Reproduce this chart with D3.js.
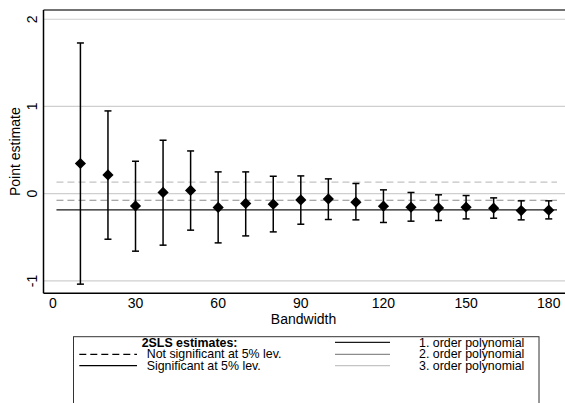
<!DOCTYPE html>
<html lang="en">
<head>
    <meta charset="UTF-8">
    <script src="https://d3js.org/d3.v7.min.js"></script>
    <title>2SLS estimates by bandwidth</title>
    <style>
        body { margin: 0; background: #fff; }
        text { font-family: "Liberation Sans", Arial, sans-serif; fill: #000; }
    </style>
</head>
<body>
<svg width="565" height="403" id="chart"></svg>
<script>
    // Estimates
    const bandwidth = [10, 20, 30, 40, 50, 60, 70, 80, 90, 100, 110, 120, 130, 140, 150, 160, 170, 180];
    const estimate  = [0.346, 0.215, -0.14, 0.014, 0.037, -0.158, -0.112, -0.12, -0.071, -0.06, -0.097, -0.143, -0.155, -0.163, -0.155, -0.166, -0.193, -0.189];
    const ciHigh    = [1.728, 0.949, 0.372, 0.613, 0.49, 0.25, 0.25, 0.2, 0.204, 0.17, 0.117, 0.044, 0.014, -0.013, -0.021, -0.048, -0.082, -0.082];
    const ciLow     = [-1.037, -0.522, -0.659, -0.59, -0.418, -0.564, -0.484, -0.438, -0.35, -0.296, -0.30, -0.33, -0.315, -0.307, -0.289, -0.281, -0.30, -0.289];

    // polynomial estimates (horizontal reference lines)
    const polyLabels = ["1. order polynomial", "2. order polynomial", "3. order polynomial"];
    const polyValues = [-0.185, -0.075, 0.132];
    const polySignif = [true, false, false];
    const polyColors = ["#1a1a1a", "#8c8c8c", "#c4c4c4"];

    const xTicks = [0, 30, 60, 90, 120, 150, 180];
    const yTicks = [-1, 0, 1, 2];

    const svg = d3.select("#chart");

    const plotLeft = 43.5, plotRight = 565, plotTop = 10, plotBottom = 293.3;

    const x = d3.scaleLinear().domain([-3.4, 185.9]).range([plotLeft, plotRight]);
    const y = d3.scaleLinear().domain([-1.142, 2.106]).range([plotBottom, plotTop]);

    // gridlines
    svg.selectAll(".grid")
        .data(yTicks)
        .enter()
        .append("line")
        .attr("x1", plotLeft)
        .attr("x2", plotRight)
        .attr("y1", d => y(d))
        .attr("y2", d => y(d))
        .style("stroke", "#cfcfcf")
        .style("stroke-width", 1.2);

    // polynomial lines
    polyValues.forEach((v, i) => {
        svg.append("line")
            .attr("x1", x(1.3))
            .attr("x2", x(183))
            .attr("y1", y(v))
            .attr("y2", y(v))
            .style("stroke", polyColors[i])
            .style("stroke-width", 1.2)
            .style("stroke-dasharray", polySignif[i] ? null : "7,4");
    });

    // error bars
    const capW = 3.5;
    bandwidth.forEach((b, i) => {
        const cx = x(b);
        svg.append("line")
            .attr("x1", cx).attr("x2", cx)
            .attr("y1", y(ciLow[i])).attr("y2", y(ciHigh[i]))
            .style("stroke", "#000").style("stroke-width", 1.5);
        [ciLow[i], ciHigh[i]].forEach(c => {
            svg.append("line")
                .attr("x1", cx - capW).attr("x2", cx + capW)
                .attr("y1", y(c)).attr("y2", y(c))
                .style("stroke", "#000").style("stroke-width", 1.5);
        });
    });

    // diamonds for point estimates
    const r = 5.6;
    svg.selectAll(".pt")
        .data(bandwidth)
        .enter()
        .append("path")
        .attr("d", (b, i) => {
            const cx = x(b), cy = y(estimate[i]);
            return `M${cx},${cy - r}L${cx + r},${cy}L${cx},${cy + r}L${cx - r},${cy}Z`;
        })
        .style("fill", "#000");

    // plot frame: left axis, top line, bottom axis
    svg.append("line").attr("x1", plotLeft).attr("x2", plotRight).attr("y1", plotTop).attr("y2", plotTop)
        .style("stroke", "#444").style("stroke-width", 1.5);
    svg.append("line").attr("x1", plotLeft).attr("x2", plotLeft).attr("y1", plotTop).attr("y2", plotBottom)
        .style("stroke", "#000").style("stroke-width", 1.5);
    svg.append("line").attr("x1", plotLeft).attr("x2", plotRight).attr("y1", plotBottom).attr("y2", plotBottom)
        .style("stroke", "#000").style("stroke-width", 1.5);

    // x tick labels
    svg.selectAll(".xt")
        .data(xTicks)
        .enter()
        .append("text")
        .attr("x", d => x(d))
        .attr("y", 307.8)
        .attr("text-anchor", "middle")
        .style("font-size", "14px")
        .text(d => d);

    svg.append("text")
        .attr("x", x(91))
        .attr("y", 324)
        .attr("text-anchor", "middle")
        .style("font-size", "14px")
        .text("Bandwidth");

    // y tick labels, rotated
    svg.selectAll(".yt")
        .data(yTicks)
        .enter()
        .append("text")
        .attr("transform", d => `translate(36.5,${y(d)}) rotate(-90)`)
        .attr("text-anchor", "middle")
        .style("font-size", "14px")
        .text(d => d);

    svg.append("text")
        .attr("transform", `translate(20,${(plotTop + plotBottom) / 2}) rotate(-90)`)
        .attr("text-anchor", "middle")
        .style("font-size", "14px")
        .text("Point estimate");

    // legend
    svg.append("rect")
        .attr("x", 73.5).attr("y", 336.7)
        .attr("width", 465.5).attr("height", 80)
        .style("fill", "none").style("stroke", "#333").style("stroke-width", 1);

    const rowY = [346.7, 358.4, 370];
    const keyY = [342.3, 354.3, 365.6];
    const legendFont = "12.4px";

    svg.append("text")
        .attr("x", 141.7).attr("y", rowY[0])
        .style("font-size", legendFont).style("font-weight", "bold")
        .text("2SLS estimates:");

    const sigLabels = ["Not significant at 5% lev.", "Significant at 5% lev."];
    sigLabels.forEach((t, i) => {
        svg.append("line")
            .attr("x1", 79.3).attr("x2", 137)
            .attr("y1", keyY[i + 1]).attr("y2", keyY[i + 1])
            .style("stroke", "#000").style("stroke-width", 1.2)
            .style("stroke-dasharray", i === 0 ? "7,4" : null);
        svg.append("text")
            .attr("x", 146.7).attr("y", rowY[i + 1])
            .style("font-size", legendFont)
            .text(t);
    });

    polyLabels.forEach((t, i) => {
        svg.append("line")
            .attr("x1", 335).attr("x2", 390)
            .attr("y1", keyY[i]).attr("y2", keyY[i])
            .style("stroke", polyColors[i]).style("stroke-width", 1.2);
        svg.append("text")
            .attr("x", 419).attr("y", rowY[i])
            .style("font-size", legendFont)
            .text(t);
    });
</script>
</body>
</html>
